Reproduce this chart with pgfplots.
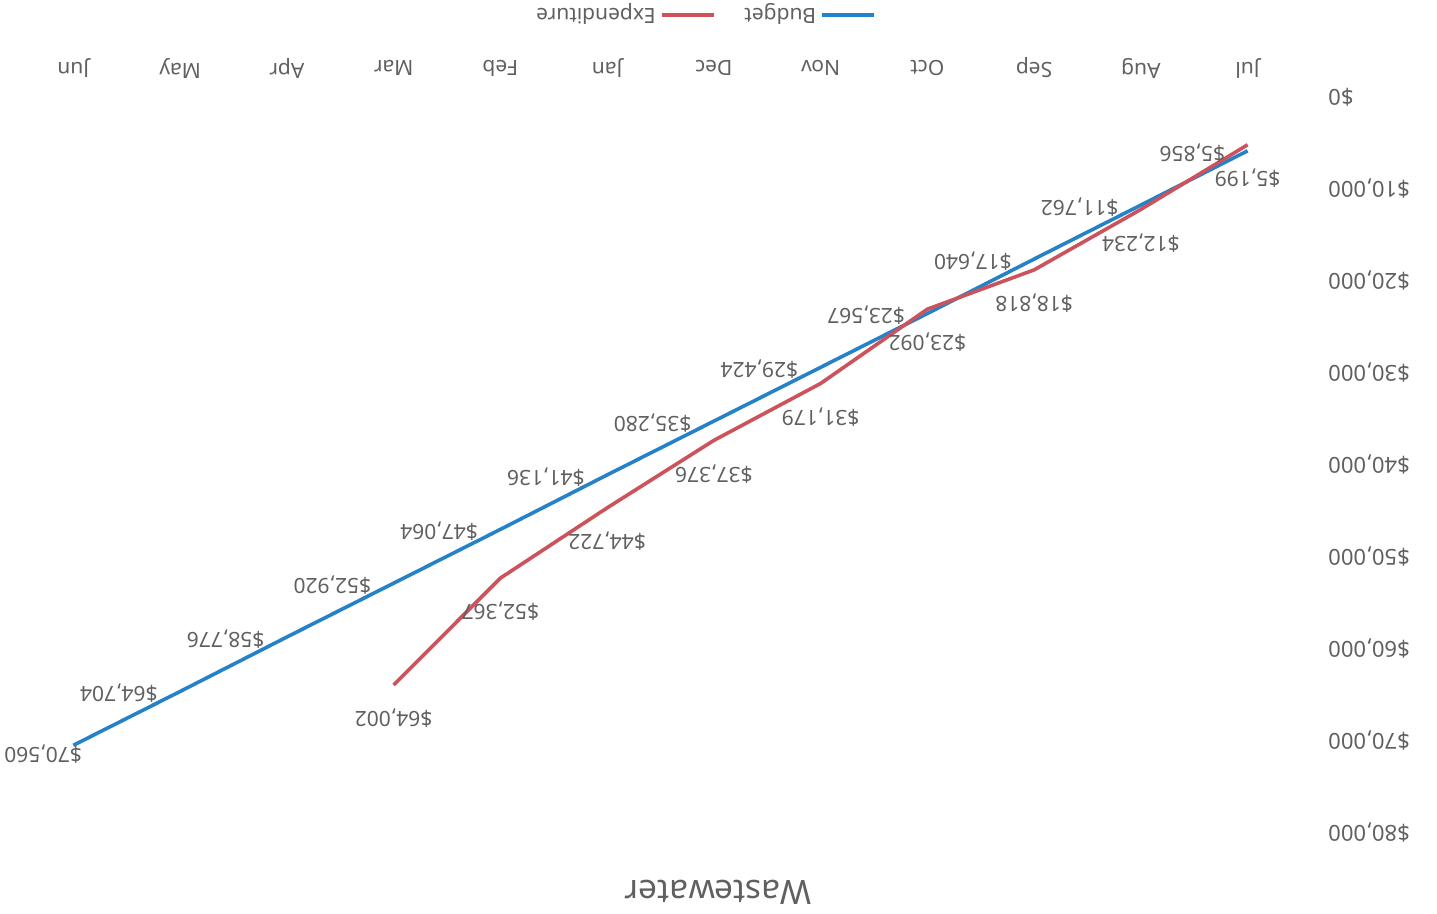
\documentclass[border=0pt]{standalone}
\usepackage{fontspec}
\setmainfont{Noto Sans}
\usepackage{pgfplots}
\usepackage{pgfplotstable}
\pgfplotsset{compat=1.18}

\definecolor{budgetblue}{RGB}{38,130,200}
\definecolor{expred}{RGB}{204,82,92}
\definecolor{labelgray}{RGB}{96,96,96}

% month index: 0 = Jul ... 11 = Jun
\pgfplotstableread{
m value
0 5856
1 11762
2 17640
3 23567
4 29424
5 35280
6 41136
7 47064
8 52920
9 58776
10 64704
11 70560
}\budgetdata

\pgfplotstableread{
m value
0 5199
1 12234
2 18818
3 23092
4 31179
5 37376
6 44722
7 52367
8 64002
}\expdata

\begin{document}
\begin{tikzpicture}[x=1pt,y=1pt]
\useasboundingbox (-10,-41) rectangle (708.5,416);
\begin{axis}[
  at={(0,0)}, anchor=south west,
  scale only axis, width=640.5pt, height=367.5pt,
  x dir=reverse, y dir=reverse,
  xmin=-0.5, xmax=11.5, ymin=0, ymax=80000,
  clip=false,
  axis line style={draw=none},
  tick style={draw=none},
  xtick={0,...,11},
  xticklabels={Jul,Aug,Sep,Oct,Nov,Dec,Jan,Feb,Mar,Apr,May,Jun},
  ytick={0,10000,...,80000},
  xticklabel pos=top,
  yticklabel pos=right,
  scaled y ticks=false,
  yticklabel={\$\pgfmathprintnumber{\tick}},
  /pgf/number format/fixed,
  /pgf/number format/precision=0,
  /pgf/number format/1000 sep={,},
  /pgf/number format/assume math mode=true,
  xticklabel style={font=\fontsize{10.5}{12}\selectfont, text=labelgray,
    anchor=center, inner sep=0pt, yshift=14.5pt, rotate=180},
  yticklabel style={font=\fontsize{11}{13}\selectfont, text=labelgray,
    anchor=east, inner sep=0pt, xshift=13.5pt, rotate=180},
  title=Wastewater,
  title style={at={(axis description cs:0.545,-0.099)}, anchor=center,
    rotate=180, font=\fontsize{16.8}{20}\selectfont, text=labelgray},
  legend style={at={(axis description cs:0.534,1.1116)}, anchor=center,
    draw=none, fill=none, legend columns=2,
    font=\fontsize{10.5}{12}\selectfont, text=labelgray,
    nodes={rotate=180, inner xsep=2pt},
    /tikz/every even column/.append style={column sep=12.5pt}},
  reverse legend,
  legend plot pos=right,
  legend image code/.code={\draw[#1] (0pt,0pt) -- (26pt,0pt);},
]
\addplot[budgetblue, line width=1.8pt, no marks]
  table[x=m, y=value] {\budgetdata};
\addlegendentry{Budget}
\addplot[expred, line width=1.8pt, no marks,
  nodes near coords={\$\pgfmathprintnumber{\pgfplotspointmeta}},
  every node near coord/.append style={font=\fontsize{10.5}{12}\selectfont,
    text=labelgray, anchor=center, yshift=-16.7pt, rotate=180}]
  table[x=m, y=value] {\expdata};
\addlegendentry{Expenditure}
% budget value labels, beside the line
\addplot[draw=none, no marks, forget plot,
  nodes near coords={\$\pgfmathprintnumber{\pgfplotspointmeta}},
  every node near coord/.append style={font=\fontsize{10.5}{12}\selectfont,
    text=labelgray, anchor=west, inner sep=0pt, xshift=-11pt, yshift=-1pt, rotate=180}]
  table[x=m, y=value, skip coords between index={11}{12}] {\budgetdata};
% the June label is kept inside the chart
\addplot[draw=none, no marks, forget plot,
  nodes near coords={\$\pgfmathprintnumber{\pgfplotspointmeta}},
  every node near coord/.append style={font=\fontsize{10.5}{12}\selectfont,
    text=labelgray, anchor=west, inner sep=0pt, xshift=4.5pt, yshift=-4.5pt, rotate=180}]
  table[x=m, y=value, skip coords between index={0}{11}] {\budgetdata};
\end{axis}
\end{tikzpicture}
\end{document}
